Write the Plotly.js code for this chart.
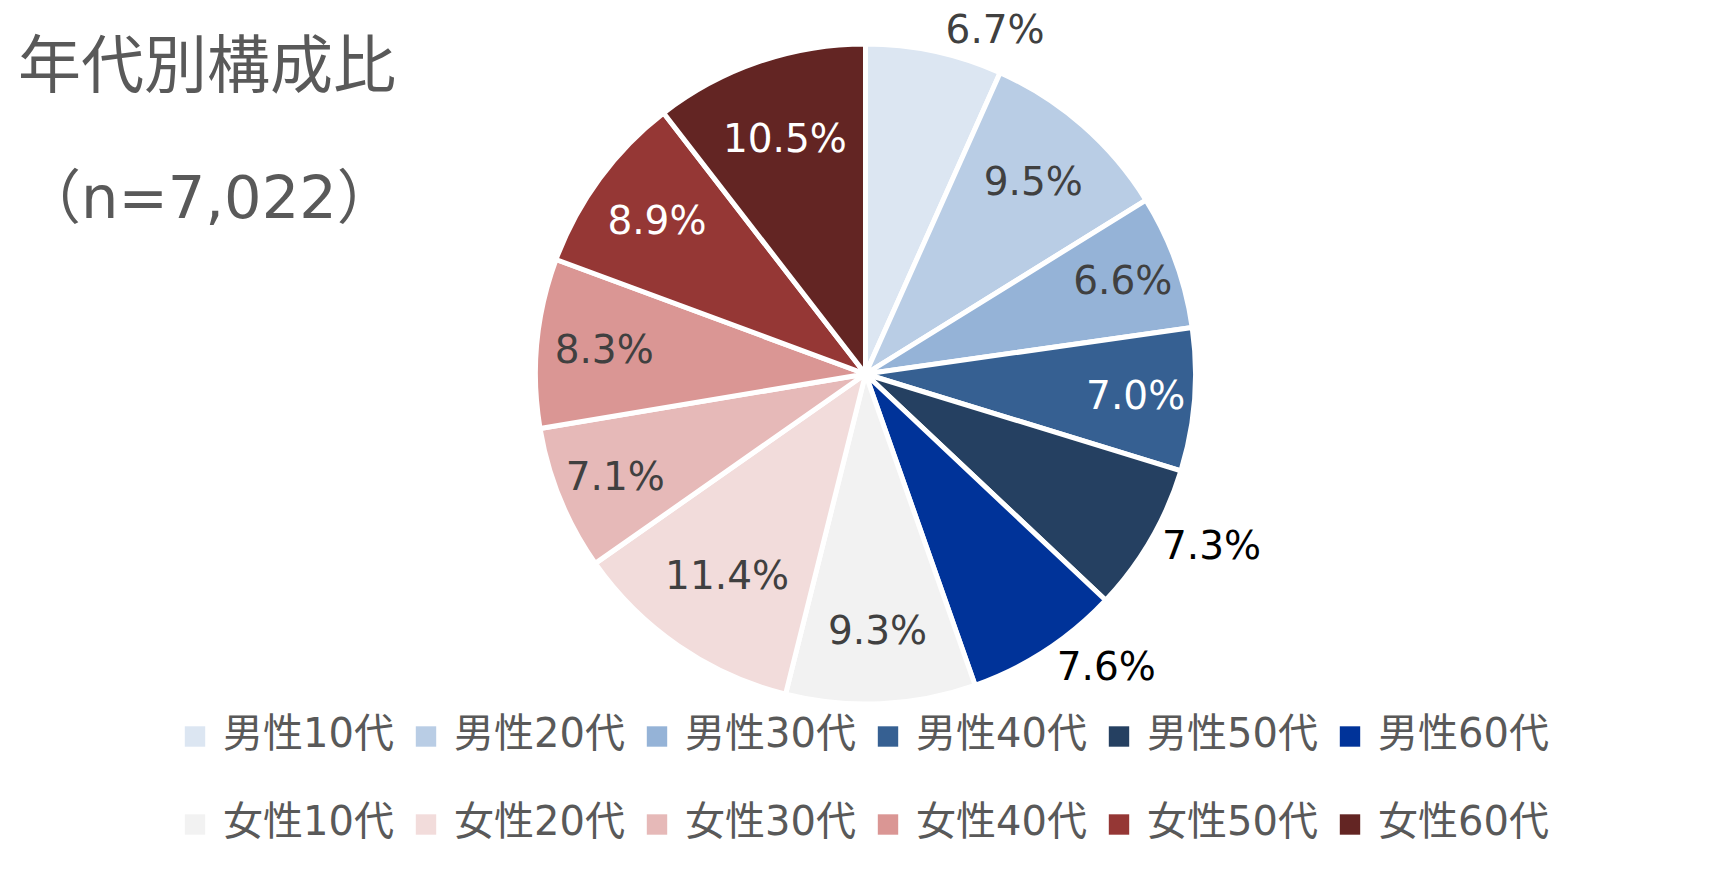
<!DOCTYPE html>
<html>
<head>
<meta charset="utf-8">
<script src="https://cdn.plot.ly/plotly-3.0.1.min.js"></script>
<style>
  html, body { margin: 0; padding: 0; background: #ffffff; }
  #chart { width: 1710px; height: 891px; }
  .legend .scrollbox { clip-path: none !important; }
  .legend .legendpoints path.legendpie {
    transform: translate(12px, 5px) scale(1.7);
    stroke-width: 0 !important;
  }
</style>
</head>
<body>
<div id="chart"></div>
<script>
// ---- data ----
const categories = ['男性10代','男性20代','男性30代','男性40代','男性50代','男性60代',
                    '女性10代','女性20代','女性30代','女性40代','女性50代','女性60代'];
const shares = [6.7, 9.5, 6.6, 7.0, 7.3, 7.6, 9.3, 11.4, 7.1, 8.3, 8.9, 10.5];
const titleText = '年代別構成比';
const sampleText = '（n=7,022）';

// ---- styles ----
const sliceColors = ['#DCE6F2','#B9CDE5','#95B3D7','#366092','#254061','#003399',
                     '#F2F2F2','#F2DCDB','#E6B9B8','#DA9694','#953735','#632523'];
const labelColors = ['#404040','#404040','#404040','#FFFFFF','#000000','#000000',
                     '#404040','#404040','#404040','#404040','#FFFFFF','#FFFFFF'];
const labelPos = ['outside','inside','inside','inside','outside','outside',
                  'inside','inside','inside','inside','inside','inside'];

const FONT = 'DejaVu Sans, Noto Sans CJK JP, sans-serif';
const W = 1710, H = 891, ML = 100, MR = 100;
const gw = W - ML - MR;
const cx = 865.5, cy = 374, R = 330;

const trace = {
  type: 'pie',
  labels: categories,
  values: shares,
  sort: false,
  direction: 'clockwise',
  rotation: 0,
  marker: { colors: sliceColors, line: { color: '#FFFFFF', width: 5 } },
  texttemplate: '%{value:.1f}%',
  textposition: labelPos,
  insidetextorientation: 'horizontal',
  textfont: { family: FONT, size: 39, color: labelColors },
  insidetextfont: { family: FONT, size: 39, color: labelColors },
  outsidetextfont: { family: FONT, size: 39, color: labelColors },
  hoverinfo: 'none',
  domain: {
    x: [(cx - R - ML) / gw, (cx + R - ML) / gw],
    y: [(H - cy - R) / H, (H - cy + R) / H]
  }
};

const layout = {
  width: W, height: H,
  margin: { l: ML, r: MR, t: 0, b: 0, pad: 0 },
  paper_bgcolor: '#FFFFFF',
  plot_bgcolor: '#FFFFFF',
  showlegend: true,
  title: {
    text: titleText,
    font: { family: FONT, size: 63, color: '#595959' },
    xref: 'container', yref: 'container',
    x: 18 / W, xanchor: 'left',
    y: 1 - 65 / H, yanchor: 'middle'
  },
  annotations: [{
    text: sampleText,
    xref: 'paper', yref: 'paper',
    x: (20 - ML) / gw, xanchor: 'left',
    y: 1 - 197 / H, yanchor: 'middle',
    showarrow: false,
    font: { family: FONT, size: 59, color: '#595959' }
  }],
  legend: {
    orientation: 'h',
    x: (183 - ML) / gw, xanchor: 'left',
    y: 1 - 699 / H, yanchor: 'top',
    entrywidth: 186,
    entrywidthmode: 'pixels',
    font: { family: FONT, size: 40, color: '#595959' },
    bgcolor: 'rgba(0,0,0,0)'
  }
};

function spreadLegendRows(gd) {
  const items = Array.from(gd.querySelectorAll('.legend .traces'));
  const parsed = items.map(function (t) {
    const m = /translate\(\s*([-\d.]+)[ ,]+([-\d.]+)\s*\)/.exec(t.getAttribute('transform') || '');
    return m ? { t: t, x: parseFloat(m[1]), y: parseFloat(m[2]) } : null;
  }).filter(Boolean);
  const ys = [];
  parsed.forEach(function (p) { if (ys.indexOf(p.y) < 0) ys.push(p.y); });
  ys.sort(function (a, b) { return a - b; });
  if (ys.length < 2) return;
  const extra = 88 - (ys[1] - ys[0]);
  parsed.forEach(function (p) {
    const row = ys.indexOf(p.y);
    p.t.setAttribute('transform', 'translate(' + p.x + ',' + (p.y + row * extra) + ')');
  });
}

Plotly.newPlot('chart', [trace], layout, { staticPlot: true, displayModeBar: false }).then(function (gd) {
  spreadLegendRows(gd);
});
</script>
</body>
</html>
